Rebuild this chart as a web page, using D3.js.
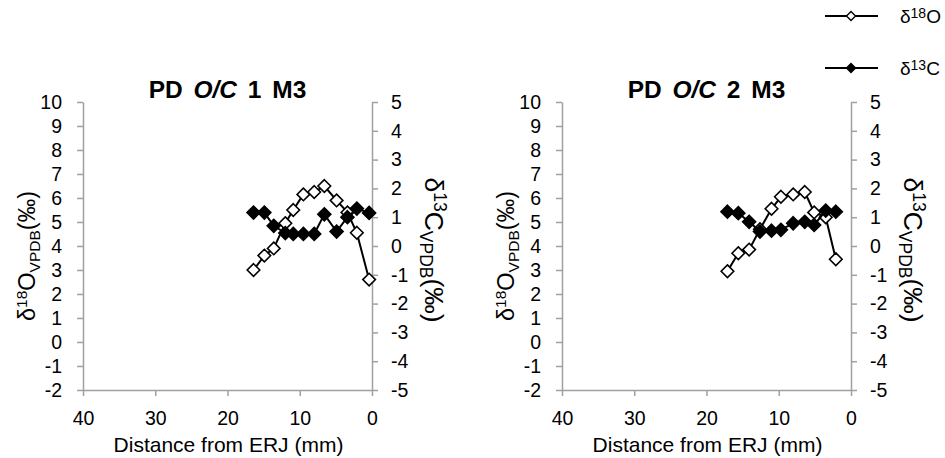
<!DOCTYPE html>
<html>
<head>
<meta charset="utf-8">
<script src="https://cdn.jsdelivr.net/npm/d3@7"></script>
<style>
  html, body { margin: 0; padding: 0; background: #fff; }
  svg { display: block; font-family: "Liberation Sans", Arial, sans-serif; }
</style>
</head>
<body>
<svg id="chart" width="945" height="458"></svg>
<script>
// ---- data ----
const panelTitles = ["1", "2"];
const xTicks = [40, 30, 20, 10, 0];
const yLeftTicks = [-2, -1, 0, 1, 2, 3, 4, 5, 6, 7, 8, 9, 10];
const yRightTicks = [-5, -4, -3, -2, -1, 0, 1, 2, 3, 4, 5];

const distance1 = [16.4, 14.9, 13.6, 12.0, 10.9, 9.5, 8.0, 6.6, 4.9, 3.4, 2.1, 0.4];
const d18O_1 = [3.0, 3.6, 3.9, 4.95, 5.5, 6.15, 6.25, 6.5, 5.9, 5.4, 4.55, 2.6];
const d13C_1 = [1.16, 1.16, 0.7, 0.45, 0.42, 0.42, 0.42, 1.1, 0.5, 1.0, 1.3, 1.15];

const distance2 = [17.1, 15.6, 14.1, 12.6, 11.0, 9.7, 8.0, 6.4, 5.1, 3.5, 2.1];
const d18O_2 = [2.95, 3.7, 3.85, 4.7, 5.55, 6.05, 6.15, 6.25, 5.4, 5.2, 3.45];
const d13C_2 = [1.19, 1.14, 0.84, 0.5, 0.53, 0.56, 0.79, 0.84, 0.73, 1.23, 1.19];

const panelsData = [
  { title: panelTitles[0], dist: distance1, o: d18O_1, c: d13C_1 },
  { title: panelTitles[1], dist: distance2, o: d18O_2, c: d13C_2 }
];

// ---- layout ----
const svg = d3.select("#chart");
const FONT = "'Liberation Sans', Arial, sans-serif";
const AXIS_COLOR = "#a0a0a0";
const panelX = [[83, 372], [562, 851]];
const yTop = 102, yBot = 390;
const fmt = d => String(d);

function diamond(r) {
  return `M0,${-r}L${r},0L0,${r}L${-r},0Z`;
}

panelsData.forEach((p, i) => {
  const [x0, x1] = panelX[i];
  const x = d3.scaleLinear().domain([40, 0]).range([x0, x1]);
  const yL = d3.scaleLinear().domain([-2, 10]).range([yBot, yTop]);
  const yR = d3.scaleLinear().domain([-5, 5]).range([yBot, yTop]);
  const g = svg.append("g");

  // axes
  const ax = g.append("g").attr("transform", `translate(0,${yBot})`)
    .call(d3.axisBottom(x).tickValues(xTicks).tickFormat(fmt).tickSize(6).tickSizeOuter(0).tickPadding(15));
  const al = g.append("g").attr("transform", `translate(${x0},0)`)
    .call(d3.axisLeft(yL).tickValues(yLeftTicks).tickFormat(fmt).tickSize(6).tickSizeOuter(0).tickPadding(15));
  const ar = g.append("g").attr("transform", `translate(${x1},0)`)
    .call(d3.axisRight(yR).tickValues(yRightTicks).tickFormat(fmt).tickSize(6).tickSizeOuter(0).tickPadding(13));
  [ax, al, ar].forEach(a => {
    a.select(".domain").attr("stroke", AXIS_COLOR).attr("stroke-width", 1.5);
    a.selectAll(".tick line").attr("stroke", AXIS_COLOR).attr("stroke-width", 1.5);
    a.selectAll(".tick text").attr("fill", "#000").attr("font-size", 19.5).attr("font-family", FONT);
  });

  // title
  const t = g.append("text").attr("x", (x0 + x1) / 2).attr("y", 98)
    .attr("text-anchor", "middle").attr("font-size", 24.5).attr("font-weight", "bold")
    .attr("font-family", FONT).attr("fill", "#000").attr("word-spacing", 4);
  t.append("tspan").text("PD ");
  t.append("tspan").attr("font-style", "italic").text("O/C");
  t.append("tspan").text(" " + p.title + " M3");

  // x axis title
  g.append("text").attr("x", (x0 + x1) / 2 + 1).attr("y", 452)
    .attr("text-anchor", "middle").attr("font-size", 21).attr("font-family", FONT)
    .attr("fill", "#000").text("Distance from ERJ (mm)");

  // left y title
  const lt = g.append("text")
    .attr("transform", `translate(${x0 - 48},256) rotate(-90)`)
    .attr("text-anchor", "middle").attr("font-size", 23.5).attr("font-family", FONT).attr("fill", "#000");
  lt.append("tspan").text("δ");
  lt.append("tspan").attr("font-size", 15.5).attr("dy", -8).text("18");
  lt.append("tspan").attr("dy", 8).text("O");
  lt.append("tspan").attr("font-size", 15.5).attr("dy", 5).text("VPDB");
  lt.append("tspan").attr("dy", -5).text("(‰)");

  // right y title
  const rt = g.append("text")
    .attr("transform", `translate(${x1 + 53},250) rotate(90)`)
    .attr("text-anchor", "middle").attr("font-size", 26.5).attr("font-family", FONT).attr("fill", "#000");
  rt.append("tspan").text("δ");
  rt.append("tspan").attr("font-size", 17.5).attr("dy", -9).text("13");
  rt.append("tspan").attr("dy", 9).text("C");
  rt.append("tspan").attr("font-size", 17.5).attr("dy", 5).text("VPDB");
  rt.append("tspan").attr("dy", -5).text("(‰)");

  // series
  const ptsO = p.dist.map((d, k) => [x(d), yL(p.o[k])]);
  const ptsC = p.dist.map((d, k) => [x(d), yR(p.c[k])]);
  const line = d3.line();

  g.append("path").attr("d", line(ptsO)).attr("fill", "none").attr("stroke", "#000").attr("stroke-width", 2);
  g.selectAll(".mo").data(ptsO).join("path")
    .attr("transform", d => `translate(${d[0]},${d[1]})`)
    .attr("d", diamond(6.3)).attr("fill", "#fff").attr("stroke", "#000").attr("stroke-width", 1.6);

  g.append("path").attr("d", line(ptsC)).attr("fill", "none").attr("stroke", "#000").attr("stroke-width", 2);
  g.selectAll(".mc").data(ptsC).join("path")
    .attr("transform", d => `translate(${d[0]},${d[1]})`)
    .attr("d", diamond(6.5)).attr("fill", "#000").attr("stroke", "#000").attr("stroke-width", 1.6);
});

// ---- legend ----
const legendItems = [
  { label: "18", sym: "O", fill: "#fff", y: 16 },
  { label: "13", sym: "C", fill: "#000", y: 68 }
];
const lg = svg.append("g");
legendItems.forEach(it => {
  lg.append("line").attr("x1", 825).attr("x2", 878).attr("y1", it.y).attr("y2", it.y)
    .attr("stroke", "#000").attr("stroke-width", 2);
  lg.append("path").attr("transform", `translate(851,${it.y})`).attr("d", diamond(4.5))
    .attr("fill", it.fill).attr("stroke", "#000").attr("stroke-width", 1.4);
  const tx = lg.append("text").attr("x", 900).attr("y", it.y + 7)
    .attr("font-size", 19).attr("font-family", FONT).attr("fill", "#000");
  tx.append("tspan").text("δ");
  tx.append("tspan").attr("font-size", 14).attr("dy", -5).text(it.label);
  tx.append("tspan").attr("dy", 5).text(it.sym);
});
</script>
</body>
</html>
